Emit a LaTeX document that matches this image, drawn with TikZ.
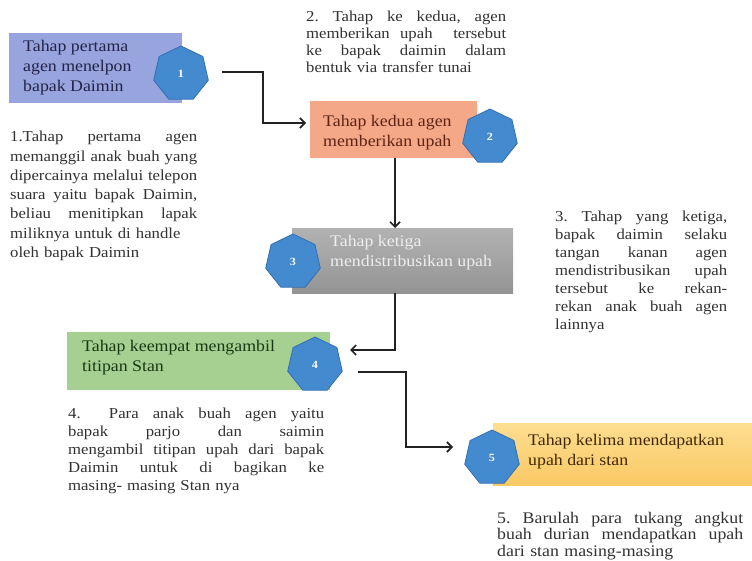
\documentclass[tikz,border=0pt]{standalone}
\usepackage{fontspec}
\setmainfont{Liberation Serif}[FakeStretch=1.1]
\usetikzlibrary{shapes.geometric,arrows.meta}
\definecolor{cbox1}{RGB}{152,164,222}
\definecolor{cbox2}{RGB}{244,168,136}
\definecolor{cbox4}{RGB}{165,208,145}
\definecolor{tbox1}{RGB}{35,35,70}
\definecolor{tbox2}{RGB}{95,35,20}
\definecolor{tbox3}{RGB}{238,238,238}
\definecolor{tbox4}{RGB}{25,55,20}
\definecolor{tbox5}{RGB}{65,40,5}
\definecolor{captxt}{RGB}{50,50,50}
\definecolor{heptfill}{RGB}{68,138,206}
\definecolor{heptline}{RGB}{50,110,180}
\definecolor{arrcol}{RGB}{35,35,35}
% justified line of given width: words separated by \hfill
\newcommand\jl[2]{\leavevmode\hbox to #1{#2}\\}
\begin{document}
\begin{tikzpicture}[x=1pt,y=-1pt,
  boxst/.style={rectangle, draw=none, inner sep=0pt, anchor=north west},
  boxtext/.style={anchor=north west, inner sep=0pt, align=left,
    font=\fontsize{16.2}{20}\selectfont},
  caption/.style={anchor=north west, inner sep=0pt, align=left,
    text=captxt, font=\fontsize{15.2}{18}\selectfont},
  hept/.style={regular polygon, regular polygon sides=7, minimum size=56pt,
    inner sep=0pt, fill=heptfill, draw=heptline, line width=0.8pt,
    text=white, font=\fontsize{11}{12}\selectfont\bfseries},
  arr/.style={draw=arrcol, line width=1.6pt, -{Straight Barb[length=5pt,width=10pt]}}
]
\useasboundingbox (0,0) rectangle (752,561);
\fill[white] (0,0) rectangle (752,561);

% boxes
\node[boxst, fill=cbox1, minimum width=173pt, minimum height=70pt] (box1) at (9,33) {};
\node[boxst, fill=cbox2, minimum width=167pt, minimum height=57pt] (box2) at (310,101) {};
\node[boxst, top color={rgb,255:red,178;green,178;blue,178}, bottom color={rgb,255:red,148;green,148;blue,148}, minimum width=221pt, minimum height=65pt] (box3) at (292,228) {};
\node[boxst, fill=cbox4, minimum width=263pt, minimum height=58pt] (box4) at (67,332) {};
\node[boxst, top color={rgb,255:red,253;green,222;blue,145}, bottom color={rgb,255:red,250;green,200;blue,100}, minimum width=259pt, minimum height=62pt] (box5) at (493,423) {};

% box texts
\node[boxtext, text=tbox1] (box1t) at (23,40.5) {Tahap pertama\\agen menelpon\\bapak Daimin};
\node[boxtext, text=tbox2] (box2t) at (323,115.5) {Tahap kedua agen\\memberikan upah};
\node[boxtext, text=tbox3] (box3t) at (330,235.5) {Tahap ketiga\\mendistribusikan upah};
\node[boxtext, text=tbox4] (box4t) at (82,340.5) {Tahap keempat mengambil\\titipan Stan};
\node[boxtext, text=tbox5] (box5t) at (528,434.5) {Tahap kelima mendapatkan\\upah dari stan};

% heptagons
\node[hept] (h1) at (181,74) {1};
\node[hept] (h2) at (490,137) {2};
\node[hept] (h3) at (293,262) {3};
\node[hept] (h4) at (315,365) {4};
\node[hept] (h5) at (492,458) {5};

% captions
\node[caption, text width=187pt, font=\fontsize{15.2}{19.3}\selectfont] (cap1) at (10,131) {%
\jl{187pt}{1.Tahap\hfill pertama\hfill agen}
\jl{187pt}{memanggil\hfill anak\hfill buah\hfill yang}
\jl{187pt}{dipercainya\hfill melalui\hfill telepon}
\jl{187pt}{suara\hfill yaitu\hfill bapak\hfill Daimin,}
\jl{187pt}{beliau\hfill menitipkan\hfill lapak}
miliknya untuk di handle\\
oleh bapak Daimin};
\node[caption, text width=200pt, font=\fontsize{15.2}{16.8}\selectfont] (cap2) at (306,11) {%
\jl{200pt}{2.\hfill Tahap\hfill ke\hfill kedua,\hfill agen}
\jl{200pt}{memberikan\hfill upah\hfill\hfill tersebut}
\jl{200pt}{ke\hfill bapak\hfill daimin\hfill dalam}
bentuk via transfer tunai};
\node[caption, text width=172pt] (cap3) at (555,211) {%
\jl{172pt}{3.\hfill Tahap\hfill yang\hfill ketiga,}
\jl{172pt}{bapak\hfill daimin\hfill selaku}
\jl{172pt}{tangan\hfill kanan\hfill agen}
\jl{172pt}{mendistribusikan\hfill upah}
\jl{172pt}{tersebut\hfill ke\hfill rekan-}
\jl{172pt}{rekan\hfill anak\hfill buah\hfill agen}
lainnya};
\node[caption, text width=256pt] (cap4) at (68,408) {%
\jl{256pt}{4.\hfill\hfill Para\hfill anak\hfill buah\hfill agen\hfill yaitu}
\jl{256pt}{bapak\hfill parjo\hfill dan\hfill saimin}
\jl{256pt}{mengambil\hfill titipan\hfill upah\hfill dari\hfill bapak}
\jl{256pt}{Daimin\hfill untuk\hfill di\hfill bagikan\hfill ke}
masing- masing Stan nya};
\node[caption, text width=246pt, font=\fontsize{16.2}{16.5}\selectfont] (cap5) at (497,512) {%
\jl{246pt}{5.\hfill Barulah\hfill para\hfill tukang\hfill angkut}
\jl{246pt}{buah\hfill durian\hfill mendapatkan\hfill upah}
dari stan masing-masing};

% connectors
\coordinate (s1) at (222,72);
\coordinate (t2) at (306,123);
\draw[arr] (s1) -- (263,72) |- (t2);
\draw[arr] (box2.south -| 395,0) -- (box3.north -| 395,0);
\coordinate (t4) at (350,350);
\draw[arr] (box3.south -| 395,0) |- (t4);
\coordinate (s4) at (358,372);
\coordinate (t5) at (453,447);
\draw[arr] (s4) -- (406,372) |- (t5);
\end{tikzpicture}
\end{document}
